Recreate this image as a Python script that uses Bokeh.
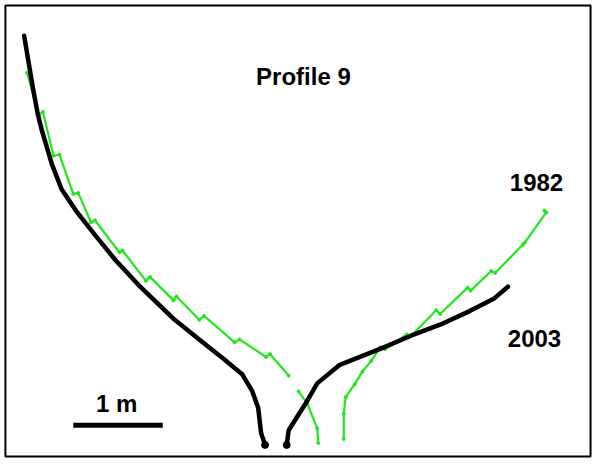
from bokeh.plotting import figure
from bokeh.models import Range1d, ColumnDataSource
from bokeh.core.properties import value
from bokeh.embed import file_html
from bokeh.resources import INLINE

# Gully cross-section, Profile 9 (metres; x across the gully, y height above the floor)
x_2003_left = [-2.813, -2.769, -2.714, -2.659, -2.615, -2.560, -2.505, -2.396, -2.220, -2.022,
               -1.791, -1.516, -1.154, -0.857, -0.582, -0.374, -0.264, -0.198, -0.165, -0.121]
y_2003_left = [4.604, 4.341, 4.011, 3.714, 3.538, 3.352, 3.165, 2.879, 2.615, 2.363,
               2.077, 1.780, 1.429, 1.187, 0.967, 0.791, 0.604, 0.418, 0.132, 0.000]
x_2003_right = [0.121, 0.143, 0.330, 0.462, 0.714, 1.187, 1.516, 1.835, 2.165, 2.440, 2.593]
y_2003_right = [0.000, 0.165, 0.462, 0.692, 0.901, 1.088, 1.231, 1.352, 1.505, 1.648, 1.780]

x_1982_left = [-2.780, -2.648, -2.604, -2.484, -2.418, -2.264, -2.209, -2.066, -2.022, -1.747,
               -1.714, -1.451, -1.407, -1.143, -1.110, -0.857, -0.802, -0.462, -0.407, -0.110,
               -0.066, 0.143]
y_1982_left = [4.187, 3.714, 3.747, 3.253, 3.264, 2.824, 2.835, 2.505, 2.527, 2.165,
               2.187, 1.846, 1.890, 1.626, 1.670, 1.407, 1.451, 1.154, 1.187, 0.989,
               1.022, 0.780]
x_1982_mid = [0.253, 0.352, 0.462, 0.473]
y_1982_mid = [0.604, 0.462, 0.187, 0.022]
x_1982_right = [0.758, 0.758, 0.780, 0.879, 0.967, 1.066, 1.165, 1.220, 1.462, 1.505,
                1.791, 1.835, 2.143, 2.176, 2.407, 2.451, 2.758, 2.780, 3.022, 3.000]
y_1982_right = [0.066, 0.352, 0.538, 0.681, 0.824, 0.945, 1.099, 1.077, 1.242, 1.220,
                1.516, 1.473, 1.769, 1.736, 1.956, 1.934, 2.253, 2.275, 2.615, 2.637]

labels = ["Profile 9", "1982", "2003", "1 m"]
label_x = [0.308, 2.912, 2.890, -1.780]
label_y = [4.143, 2.956, 1.198, 0.462]

scale_x = [-2.264, -1.264]
scale_y = [0.220, 0.220]

# drawing frame (panel border), in the same metre units
frame_left, frame_right = -3.022, 3.516
frame_bottom, frame_top = -0.132, 4.945

GREEN = "#22e61e"

p = figure(width=593, height=461, output_backend="svg", toolbar_location=None,
           x_range=Range1d(-3.077, 3.549), y_range=Range1d(-0.187, 5.0),
           min_border=0, min_border_left=0, min_border_right=0,
           min_border_top=0, min_border_bottom=0)
p.axis.visible = False
p.grid.visible = False
p.outline_line_color = None
p.background_fill_color = "white"
p.border_fill_color = "white"

p.quad(left=[frame_left], right=[frame_right], bottom=[frame_bottom], top=[frame_top],
       fill_color=None, line_color="black", line_width=2)

# 1982 profile (green)
for xs, ys in [(x_1982_left, y_1982_left), (x_1982_mid, y_1982_mid), (x_1982_right, y_1982_right)]:
    p.line(xs, ys, line_color=GREEN, line_width=2.2, line_join="round")
    p.scatter(xs, ys, size=3, color=GREEN)

# 2003 profile (black)
for xs, ys in [(x_2003_left, y_2003_left), (x_2003_right, y_2003_right)]:
    p.line(xs, ys, line_color="black", line_width=4.5, line_join="round", line_cap="round")
p.scatter([x_2003_left[-1], x_2003_right[0]], [y_2003_left[-1], y_2003_right[0]],
          size=7, color="black")

# scale bar
p.line(scale_x, scale_y, line_color="black", line_width=5)

src = ColumnDataSource(dict(x=label_x, y=label_y, t=labels))
p.text("x", "y", text="t", source=src, text_align="center", text_baseline="middle",
       text_font=value("Liberation Sans"), text_font_size="24px", text_font_style="bold",
       text_color="black")

open("out.html", "w").write(file_html(p, INLINE))
